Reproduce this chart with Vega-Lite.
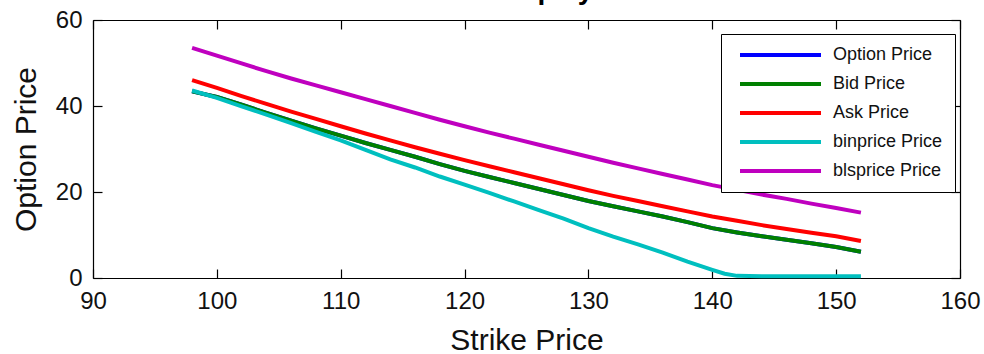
{
  "$schema": "https://vega.github.io/schema/vega-lite/v6.json",
  "width": 867,
  "height": 258,
  "autosize": {"type": "none"},
  "padding": {"left": 93, "top": 20, "right": 24, "bottom": 76},
  "background": "white",
  "config": {
    "view": {"stroke": null},
    "font": "Liberation Sans",
    "axis": {
      "grid": false,
      "domainColor": "#000000",
      "domainWidth": 1.2,
      "tickColor": "#000000",
      "tickWidth": 1.2,
      "tickSize": -9,
      "labelFontSize": 24,
      "labelColor": "#111111",
      "labelFont": "Liberation Sans",
      "titleFont": "Liberation Sans",
      "titleFontSize": 30,
      "titleFontWeight": "normal",
      "titleColor": "#111111",
      "labelFlush": false,
      "labelOverlap": false
    }
  },
  "title": {
    "text": "Price Display",
    "fontSize": 28,
    "fontWeight": "bold",
    "font": "Liberation Sans",
    "baseline": "alphabetic",
    "frame": "group",
    "offset": -19,
    "dx": -21,
    "anchor": "middle",
    "color": "#000000"
  },
  "data": {
    "values": [
      {"k": 98, "p": 43.4, "s": "Option Price"}, {"k": 100, "p": 42.1, "s": "Option Price"}, {"k": 102, "p": 40.3, "s": "Option Price"}, {"k": 104, "p": 38.4, "s": "Option Price"}, {"k": 106, "p": 36.6, "s": "Option Price"}, {"k": 108, "p": 34.8, "s": "Option Price"}, {"k": 110, "p": 33.1, "s": "Option Price"}, {"k": 112, "p": 31.4, "s": "Option Price"}, {"k": 114, "p": 29.8, "s": "Option Price"}, {"k": 116, "p": 28.2, "s": "Option Price"}, {"k": 118, "p": 26.5, "s": "Option Price"}, {"k": 120, "p": 24.9, "s": "Option Price"}, {"k": 122, "p": 23.5, "s": "Option Price"}, {"k": 124, "p": 22.1, "s": "Option Price"}, {"k": 126, "p": 20.7, "s": "Option Price"}, {"k": 128, "p": 19.3, "s": "Option Price"}, {"k": 130, "p": 17.9, "s": "Option Price"}, {"k": 132, "p": 16.7, "s": "Option Price"}, {"k": 134, "p": 15.5, "s": "Option Price"}, {"k": 136, "p": 14.3, "s": "Option Price"}, {"k": 138, "p": 13.0, "s": "Option Price"}, {"k": 140, "p": 11.6, "s": "Option Price"}, {"k": 142, "p": 10.6, "s": "Option Price"}, {"k": 144, "p": 9.7, "s": "Option Price"}, {"k": 146, "p": 8.9, "s": "Option Price"}, {"k": 148, "p": 8.1, "s": "Option Price"}, {"k": 150, "p": 7.2, "s": "Option Price"}, {"k": 152, "p": 6.1, "s": "Option Price"},

      {"k": 98, "p": 43.4, "s": "Bid Price"}, {"k": 100, "p": 42.1, "s": "Bid Price"}, {"k": 102, "p": 40.3, "s": "Bid Price"}, {"k": 104, "p": 38.4, "s": "Bid Price"}, {"k": 106, "p": 36.6, "s": "Bid Price"}, {"k": 108, "p": 34.8, "s": "Bid Price"}, {"k": 110, "p": 33.1, "s": "Bid Price"}, {"k": 112, "p": 31.4, "s": "Bid Price"}, {"k": 114, "p": 29.8, "s": "Bid Price"}, {"k": 116, "p": 28.2, "s": "Bid Price"}, {"k": 118, "p": 26.5, "s": "Bid Price"}, {"k": 120, "p": 24.9, "s": "Bid Price"}, {"k": 122, "p": 23.5, "s": "Bid Price"}, {"k": 124, "p": 22.1, "s": "Bid Price"}, {"k": 126, "p": 20.7, "s": "Bid Price"}, {"k": 128, "p": 19.3, "s": "Bid Price"}, {"k": 130, "p": 17.9, "s": "Bid Price"}, {"k": 132, "p": 16.7, "s": "Bid Price"}, {"k": 134, "p": 15.5, "s": "Bid Price"}, {"k": 136, "p": 14.3, "s": "Bid Price"}, {"k": 138, "p": 13.0, "s": "Bid Price"}, {"k": 140, "p": 11.6, "s": "Bid Price"}, {"k": 142, "p": 10.6, "s": "Bid Price"}, {"k": 144, "p": 9.7, "s": "Bid Price"}, {"k": 146, "p": 8.9, "s": "Bid Price"}, {"k": 148, "p": 8.1, "s": "Bid Price"}, {"k": 150, "p": 7.2, "s": "Bid Price"}, {"k": 152, "p": 6.1, "s": "Bid Price"},

      {"k": 98, "p": 46.0, "s": "Ask Price"}, {"k": 100, "p": 44.2, "s": "Ask Price"}, {"k": 102, "p": 42.3, "s": "Ask Price"}, {"k": 104, "p": 40.5, "s": "Ask Price"}, {"k": 106, "p": 38.7, "s": "Ask Price"}, {"k": 108, "p": 37.0, "s": "Ask Price"}, {"k": 110, "p": 35.3, "s": "Ask Price"}, {"k": 112, "p": 33.6, "s": "Ask Price"}, {"k": 114, "p": 32.0, "s": "Ask Price"}, {"k": 116, "p": 30.4, "s": "Ask Price"}, {"k": 118, "p": 28.9, "s": "Ask Price"}, {"k": 120, "p": 27.4, "s": "Ask Price"}, {"k": 122, "p": 26.0, "s": "Ask Price"}, {"k": 124, "p": 24.6, "s": "Ask Price"}, {"k": 126, "p": 23.2, "s": "Ask Price"}, {"k": 128, "p": 21.8, "s": "Ask Price"}, {"k": 130, "p": 20.4, "s": "Ask Price"}, {"k": 132, "p": 19.1, "s": "Ask Price"}, {"k": 134, "p": 17.9, "s": "Ask Price"}, {"k": 136, "p": 16.7, "s": "Ask Price"}, {"k": 138, "p": 15.5, "s": "Ask Price"}, {"k": 140, "p": 14.3, "s": "Ask Price"}, {"k": 142, "p": 13.3, "s": "Ask Price"}, {"k": 144, "p": 12.3, "s": "Ask Price"}, {"k": 146, "p": 11.4, "s": "Ask Price"}, {"k": 148, "p": 10.5, "s": "Ask Price"}, {"k": 150, "p": 9.7, "s": "Ask Price"}, {"k": 152, "p": 8.6, "s": "Ask Price"},

      {"k": 98, "p": 43.6, "s": "binprice Price"}, {"k": 100, "p": 41.9, "s": "binprice Price"}, {"k": 102, "p": 39.9, "s": "binprice Price"}, {"k": 104, "p": 38.0, "s": "binprice Price"}, {"k": 106, "p": 36.0, "s": "binprice Price"}, {"k": 108, "p": 34.0, "s": "binprice Price"}, {"k": 110, "p": 32.0, "s": "binprice Price"}, {"k": 112, "p": 29.8, "s": "binprice Price"}, {"k": 114, "p": 27.6, "s": "binprice Price"}, {"k": 116, "p": 25.7, "s": "binprice Price"}, {"k": 118, "p": 23.6, "s": "binprice Price"}, {"k": 120, "p": 21.7, "s": "binprice Price"}, {"k": 122, "p": 19.8, "s": "binprice Price"}, {"k": 124, "p": 17.8, "s": "binprice Price"}, {"k": 126, "p": 15.8, "s": "binprice Price"}, {"k": 128, "p": 13.8, "s": "binprice Price"}, {"k": 130, "p": 11.6, "s": "binprice Price"}, {"k": 132, "p": 9.6, "s": "binprice Price"}, {"k": 134, "p": 7.8, "s": "binprice Price"}, {"k": 136, "p": 5.9, "s": "binprice Price"}, {"k": 138, "p": 3.8, "s": "binprice Price"}, {"k": 140, "p": 1.9, "s": "binprice Price"}, {"k": 141, "p": 1.0, "s": "binprice Price"}, {"k": 142, "p": 0.5, "s": "binprice Price"}, {"k": 144, "p": 0.4, "s": "binprice Price"}, {"k": 146, "p": 0.4, "s": "binprice Price"}, {"k": 148, "p": 0.4, "s": "binprice Price"}, {"k": 150, "p": 0.4, "s": "binprice Price"}, {"k": 152, "p": 0.4, "s": "binprice Price"},

      {"k": 98, "p": 53.5, "s": "blsprice Price"}, {"k": 100, "p": 51.7, "s": "blsprice Price"}, {"k": 102, "p": 49.9, "s": "blsprice Price"}, {"k": 104, "p": 48.1, "s": "blsprice Price"}, {"k": 106, "p": 46.4, "s": "blsprice Price"}, {"k": 108, "p": 44.8, "s": "blsprice Price"}, {"k": 110, "p": 43.2, "s": "blsprice Price"}, {"k": 112, "p": 41.6, "s": "blsprice Price"}, {"k": 114, "p": 40.0, "s": "blsprice Price"}, {"k": 116, "p": 38.4, "s": "blsprice Price"}, {"k": 118, "p": 36.8, "s": "blsprice Price"}, {"k": 120, "p": 35.3, "s": "blsprice Price"}, {"k": 122, "p": 33.8, "s": "blsprice Price"}, {"k": 124, "p": 32.4, "s": "blsprice Price"}, {"k": 126, "p": 31.0, "s": "blsprice Price"}, {"k": 128, "p": 29.6, "s": "blsprice Price"}, {"k": 130, "p": 28.2, "s": "blsprice Price"}, {"k": 132, "p": 26.8, "s": "blsprice Price"}, {"k": 134, "p": 25.5, "s": "blsprice Price"}, {"k": 136, "p": 24.2, "s": "blsprice Price"}, {"k": 138, "p": 22.9, "s": "blsprice Price"}, {"k": 140, "p": 21.6, "s": "blsprice Price"}, {"k": 142, "p": 20.5, "s": "blsprice Price"}, {"k": 144, "p": 19.4, "s": "blsprice Price"}, {"k": 146, "p": 18.4, "s": "blsprice Price"}, {"k": 148, "p": 17.3, "s": "blsprice Price"}, {"k": 150, "p": 16.3, "s": "blsprice Price"}, {"k": 152, "p": 15.2, "s": "blsprice Price"}
    ]
  },
  "layer": [
    {
      "transform": [{"filter": "datum.s === 'Option Price'"}],
      "mark": {"type": "line", "strokeWidth": 4},
      "encoding": {
        "x": {
          "field": "k", "type": "quantitative",
          "scale": {"domain": [90, 160], "nice": false, "zero": false},
          "axis": {"orient": "bottom", "values": [90, 100, 110, 120, 130, 140, 150, 160], "labelPadding": 20, "title": "Strike Price", "titlePadding": 12}
        },
        "y": {
          "field": "p", "type": "quantitative",
          "scale": {"domain": [0, 60], "nice": false},
          "axis": {"orient": "left", "values": [0, 20, 40, 60], "labelPadding": 20, "title": "Option Price", "titlePadding": 14}
        },
        "color": {
          "field": "s", "type": "nominal",
          "scale": {
            "domain": ["Option Price", "Bid Price", "Ask Price", "binprice Price", "blsprice Price"],
            "range": ["#0000FF", "#008000", "#FF0000", "#00BFBF", "#BF00BF"]
          },
          "legend": {
            "orient": "none",
            "legendX": 628,
            "legendY": 14,
            "title": null,
            "symbolType": "M-0.4,0L15.8,0",
            "symbolSize": 100,
            "symbolStrokeWidth": 4,
            "labelFontSize": 18,
            "labelFont": "Liberation Sans",
            "labelColor": "#111111",
            "labelOffset": 82,
            "labelLimit": 300,
            "rowPadding": 11,
            "padding": 12,
            "strokeColor": "#000000",
            "fillColor": "#FFFFFF"
          }
        }
      }
    },
    {
      "transform": [{"filter": "datum.s !== 'Option Price'"}],
      "mark": {"type": "line", "strokeWidth": 4},
      "encoding": {
        "x": {
          "field": "k", "type": "quantitative",
          "axis": {"orient": "top", "values": [90, 100, 110, 120, 130, 140, 150, 160], "labels": false, "title": null}
        },
        "y": {
          "field": "p", "type": "quantitative",
          "axis": {"orient": "right", "values": [0, 20, 40, 60], "labels": false, "title": null}
        },
        "color": {"field": "s", "type": "nominal"}
      }
    }
  ],
  "resolve": {"axis": {"x": "independent", "y": "independent"}}
}
